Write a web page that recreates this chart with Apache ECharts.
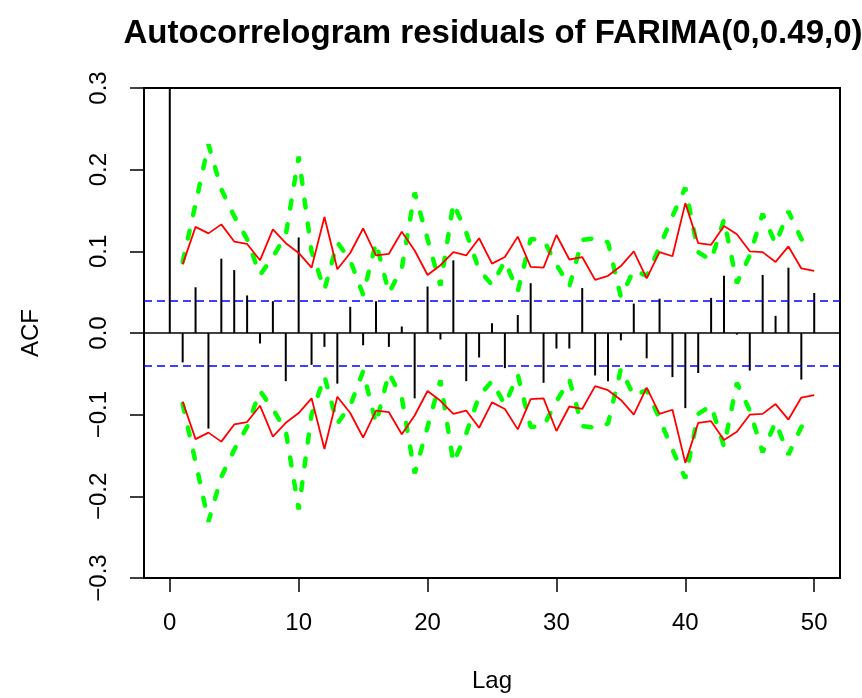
<!DOCTYPE html>
<html>
<head>
<meta charset="utf-8">
<script src="https://cdn.jsdelivr.net/npm/echarts@6/dist/echarts.min.js"></script>
<style>
html,body{margin:0;padding:0;background:#fff;}
#chart{width:862px;height:698px;}
</style>
</head>
<body>
<div id="chart"></div>
<script>
// ---- data ----
const titleText = 'Autocorrelogram residuals of FARIMA(0,0.49,0)';
const lags = [0,1,2,3,4,5,6,7,8,9,10,11,12,13,14,15,16,17,18,19,20,21,22,23,24,25,26,27,28,29,30,31,32,33,34,35,36,37,38,39,40,41,42,43,44,45,46,47,48,49,50];
const acfValues = [1, -0.036, 0.056, -0.117, 0.091, 0.077, 0.046, -0.013, 0.039, -0.059, 0.117,
  -0.039, -0.017, -0.062, 0.032, -0.015, 0.039, -0.017, 0.008, -0.080, 0.057,
  -0.008, 0.089, -0.059, -0.030, 0.012, -0.043, 0.022, 0.061, -0.061, -0.019,
  -0.019, 0.055, -0.052, -0.059, -0.009, 0.036, -0.031, 0.042, -0.054, -0.092,
  -0.049, 0.043, 0.070, -0.002, -0.046, 0.071, 0.021, 0.080, -0.057, 0.049];
const bandLags = [1,2,3,4,5,6,7,8,9,10,11,12,13,14,15,16,17,18,19,20,21,22,23,24,25,26,27,28,29,30,31,32,33,34,35,36,37,38,39,40,41,42,43,44,45,46,47,48,49,50];
const redBand = [0.084, 0.130, 0.122, 0.133, 0.112, 0.109, 0.089, 0.127, 0.110, 0.098,
  0.080, 0.142, 0.078, 0.098, 0.128, 0.095, 0.097, 0.124, 0.101, 0.071,
  0.083, 0.099, 0.095, 0.116, 0.085, 0.093, 0.118, 0.081, 0.080, 0.120,
  0.090, 0.093, 0.065, 0.070, 0.082, 0.100, 0.067, 0.099, 0.094, 0.159,
  0.110, 0.108, 0.131, 0.121, 0.100, 0.099, 0.087, 0.106, 0.079, 0.076];
const greenBand = [0.087, 0.158, 0.231, 0.176, 0.143, 0.115, 0.071, 0.093, 0.120, 0.216,
  0.100, 0.053, 0.111, 0.089, 0.047, 0.111, 0.049, 0.079, 0.172, 0.115,
  0.058, 0.159, 0.123, 0.077, 0.059, 0.088, 0.051, 0.115, 0.114, 0.084,
  0.057, 0.114, 0.116, 0.111, 0.044, 0.077, 0.070, 0.105, 0.143, 0.178,
  0.099, 0.089, 0.139, 0.061, 0.095, 0.146, 0.109, 0.149, 0.115, 0.104];
const ciLimit = 0.0445;
const xTickValues = [0, 10, 20, 30, 40, 50];
const xRange = [-2, 52];
const yRange = [-0.3, 0.3];
const yInterval = 0.1;

// ---- build ----
const FONT = '"Liberation Sans", Arial, Helvetica, sans-serif';
const pairs = (xs, ys, sign) => xs.map((x, i) => [x, sign * ys[i]]);
const chart = echarts.init(document.getElementById('chart'));
chart.setOption({
  animation: false,
  backgroundColor: '#fff',
  title: {
    text: titleText,
    left: 488, top: 12,
    textAlign: 'center',
    textStyle: { fontFamily: FONT, fontSize: 33, fontWeight: 'bold', color: '#000' }
  },
  grid: {
    left: 144, top: 88, width: 696, height: 493,
    show: true, borderColor: '#000', borderWidth: 2, backgroundColor: 'transparent'
  },
  xAxis: {
    type: 'value', min: xRange[0], max: xRange[1],
    name: 'Lag', nameLocation: 'middle', nameGap: 91,
    nameTextStyle: { fontFamily: FONT, fontSize: 24, color: '#000' },
    axisLine: { show: false, onZero: false },
    splitLine: { show: false },
    axisTick: { show: true, length: 14, lineStyle: { color: '#000', width: 1.5 }, customValues: xTickValues },
    axisLabel: { fontFamily: FONT, fontSize: 24, color: '#000', margin: 33, customValues: xTickValues }
  },
  yAxis: {
    type: 'value', min: yRange[0], max: yRange[1], interval: yInterval,
    name: 'ACF', nameLocation: 'middle', nameGap: 101, nameRotate: 90,
    nameTextStyle: { fontFamily: FONT, fontSize: 24, color: '#000' },
    axisLine: { show: false, onZero: false },
    splitLine: { show: false },
    axisTick: { show: true, length: 14, lineStyle: { color: '#000', width: 1.5 } },
    axisLabel: {
      fontFamily: FONT, fontSize: 24, color: '#000', margin: 33, rotate: 90,
      formatter: v => (v < -1e-9 ? '\u2212' : '') + Math.abs(v).toFixed(1)
    }
  },
  series: [
    {
      type: 'bar', barWidth: 2, data: pairs(lags, acfValues, 1),
      itemStyle: { color: '#000' }, clip: true, silent: true,
      markLine: {
        silent: true, symbol: 'none', label: { show: false },
        data: [
          { yAxis: 0, lineStyle: { color: '#000', width: 1.5, type: 'solid' } },
          { yAxis: ciLimit, lineStyle: { color: '#0000FF', width: 1.5, type: [8, 5] } },
          { yAxis: -ciLimit, lineStyle: { color: '#0000FF', width: 1.5, type: [8, 5] } }
        ]
      }
    },
    { type: 'line', data: pairs(bandLags, greenBand, 1), symbol: 'none',
      lineStyle: { color: '#00FF00', width: 4.5, type: [8, 16], cap: 'round' }, z: 3 },
    { type: 'line', data: pairs(bandLags, greenBand, -1), symbol: 'none',
      lineStyle: { color: '#00FF00', width: 4.5, type: [8, 16], cap: 'round' }, z: 3 },
    { type: 'line', data: pairs(bandLags, redBand, 1), symbol: 'none',
      lineStyle: { color: '#FF0000', width: 1.8 }, z: 4 },
    { type: 'line', data: pairs(bandLags, redBand, -1), symbol: 'none',
      lineStyle: { color: '#FF0000', width: 1.8 }, z: 4 }
  ]
});
</script>
</body>
</html>
